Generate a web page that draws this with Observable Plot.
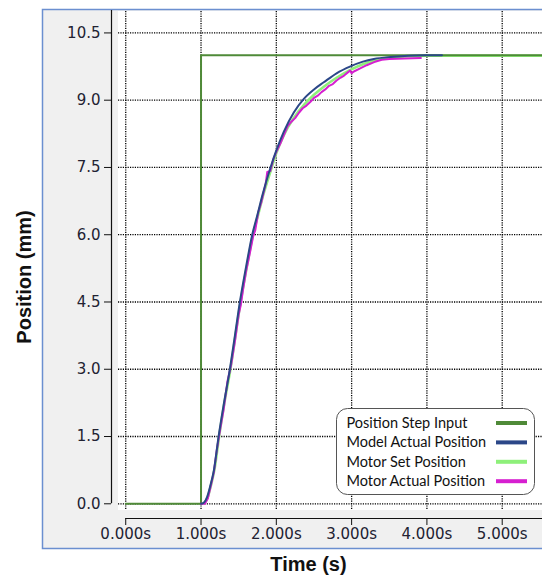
<!DOCTYPE html>
<html><head><meta charset="utf-8">
<script src="https://cdn.jsdelivr.net/npm/d3@7"></script>
<script src="https://cdn.jsdelivr.net/npm/@observablehq/plot@0.6"></script>
<style>
html,body{margin:0;padding:0;background:#fff;}
#chart{position:relative;width:542px;height:577px;overflow:hidden;}
</style></head><body><div id="chart"></div>
<script>
// ---- data ----
const xTicks = [0, 1, 2, 3, 4, 5];
const yTicks = [0, 1.5, 3, 4.5, 6, 7.5, 9, 10.5];
const xDomain = [-0.189, 5.535];
const yDomain = [-0.328, 11.0];
const seriesNames = ["Position Step Input", "Model Actual Position", "Motor Set Position", "Motor Actual Position"];
const seriesColors = ["#4f8a38", "#2b4788", "#8ef07a", "#d61fd0"];

const stepT = [0, 1, 1, 5.535];
const stepV = [0, 0, 10, 10];

const modelT = [1.0, 1.04, 1.08, 1.12, 1.17, 1.233, 1.3, 1.383, 1.45, 1.516, 1.6, 1.68, 1.75, 1.813, 1.923, 2.0, 2.1, 2.23, 2.365, 2.5, 2.63, 2.8, 2.985, 3.15, 3.295, 3.52, 3.98, 4.2];
const modelV = [0, 0.03, 0.15, 0.38, 0.74, 1.5, 2.2, 3.0, 3.75, 4.5, 5.3, 6.0, 6.45, 6.87, 7.5, 7.88, 8.3, 8.72, 9.03, 9.24, 9.40, 9.6, 9.755, 9.86, 9.92, 9.965, 10.0, 10.0];

const setT = [1.0, 1.05, 1.09, 1.13, 1.18, 1.24, 1.31, 1.39, 1.46, 1.525, 1.61, 1.69, 1.76, 1.82, 1.93, 2.0, 2.1, 2.23, 2.37, 2.5, 2.63, 2.8, 2.99, 3.15, 3.3, 3.5, 3.75, 4.0, 5.535];
const setV = [0, 0.03, 0.15, 0.4, 0.78, 1.5, 2.25, 3.0, 3.78, 4.5, 5.3, 6.0, 6.45, 6.85, 7.45, 7.82, 8.22, 8.6, 8.9, 9.12, 9.3, 9.5, 9.68, 9.8, 9.88, 9.95, 9.98, 9.99, 9.99];

const actualT = [1.0, 1.05, 1.09, 1.13, 1.17, 1.21, 1.25, 1.3, 1.35, 1.4, 1.45, 1.5, 1.53, 1.56, 1.6, 1.65, 1.69, 1.72, 1.76, 1.8, 1.86, 1.88, 1.92, 1.96, 2.0, 2.05, 2.1, 2.15, 2.2, 2.25, 2.3, 2.35, 2.4, 2.45, 2.5, 2.55, 2.6, 2.65, 2.7, 2.75, 2.8, 2.85, 2.9, 2.95, 2.98, 3.0, 3.03, 3.1, 3.2, 3.3, 3.4, 3.5, 3.7, 3.92];
const actualV = [0, 0.0, 0.12, 0.4, 0.7, 1.2, 1.62, 2.1, 2.72, 3.1, 3.62, 4.22, 4.45, 4.8, 5.2, 5.6, 5.95, 6.1, 6.5, 6.72, 7.15, 7.4, 7.42, 7.68, 7.85, 8.02, 8.22, 8.42, 8.52, 8.6, 8.72, 8.82, 8.88, 8.96, 9.05, 9.1, 9.18, 9.24, 9.32, 9.36, 9.44, 9.5, 9.55, 9.62, 9.66, 9.6, 9.64, 9.7, 9.78, 9.85, 9.9, 9.92, 9.93, 9.94];

const rows = (T, V) => T.map((t, i) => ({t, v: V[i]}));
const stepRows = rows(stepT, stepV);
const modelRows = rows(modelT, modelV);
const setRows = rows(setT, setV);
const actualRows = rows(actualT, actualV);

const gridStyle = {stroke: "#000", strokeOpacity: 1, strokeWidth: 1.3, strokeDasharray: "1.2,1.2"};

const plot = Plot.plot({
  width: 542, height: 577,
  marginLeft: 111, marginRight: 0, marginTop: 10, marginBottom: 59,
  style: {background: "transparent", fontFamily: "DejaVu Sans, Verdana, sans-serif", fontSize: "15px", color: "#222232", overflow: "visible"},
  x: {domain: xDomain},
  y: {domain: yDomain},
  marks: [
    Plot.gridX(xTicks, {...gridStyle, insetTop: 1, insetBottom: 8}),
    Plot.gridY(yTicks, {...gridStyle, insetLeft: 7}),
    Plot.line(setRows, {x: "t", y: "v", stroke: seriesColors[2], strokeWidth: 2.6, curve: "monotone-x"}),
    Plot.line(stepRows, {x: "t", y: "v", stroke: seriesColors[0], strokeWidth: 2}),
    Plot.line(actualRows, {x: "t", y: "v", stroke: seriesColors[3], strokeWidth: 2}),
    Plot.line(modelRows, {x: "t", y: "v", stroke: seriesColors[1], strokeWidth: 2, curve: "monotone-x"}),
    Plot.ruleX([xDomain[0]], {y1: 0, y2: yDomain[1], stroke: "#111", strokeWidth: 1.2}),
    Plot.ruleY([yDomain[0]], {x1: 0, x2: xDomain[1], stroke: "#111", strokeWidth: 1.2}),
    Plot.axisY(yTicks, {tickSize: 7, tickPadding: 4, tickFormat: d => d.toFixed(1), label: null, stroke: "#111"}),
    Plot.axisX(xTicks, {tickSize: 7, tickPadding: 3, tickFormat: d => d.toFixed(3) + "s", label: null, stroke: "#111"})
  ]
});

const svg = d3.select(plot);
// background panels (inserted underneath)
const bg = svg.insert("g", ":first-child");
bg.append("rect").attr("x", 0).attr("y", 0).attr("width", 542).attr("height", 577).attr("fill", "#fff");
bg.append("rect").attr("x", 42.5).attr("y", 9.5).attr("width", 520).attr("height", 539)
  .attr("fill", "#f0f0f0").attr("stroke", "#6b8fd0").attr("stroke-width", 1.5);
bg.append("rect").attr("x", 118).attr("y", 11).attr("width", 430).attr("height", 499).attr("fill", "#fff");

// axis titles
svg.append("text").text("Position (mm)")
  .attr("transform", "translate(24,277) rotate(-90)")
  .attr("text-anchor", "middle").attr("dy", "0.35em")
  .attr("font-family", "Liberation Sans, Arial, sans-serif").attr("font-weight", "bold")
  .attr("font-size", 20).attr("fill", "#111");
svg.append("text").text("Time (s)")
  .attr("x", 308.5).attr("y", 571)
  .attr("text-anchor", "middle")
  .attr("font-family", "Liberation Sans, Arial, sans-serif").attr("font-weight", "bold")
  .attr("font-size", 20).attr("fill", "#111");

// legend
const lg = svg.append("g");
lg.append("rect").attr("x", 336.5).attr("y", 408.5).attr("width", 198).attr("height", 86)
  .attr("rx", 11).attr("fill", "#fff").attr("stroke", "#555").attr("stroke-width", 1);
seriesNames.forEach((name, i) => {
  const cy = 423 + i * 19.4;
  lg.append("text").text(name).attr("x", 346.5).attr("y", cy).attr("dy", "0.35em")
    .attr("text-anchor", "start")
    .attr("font-family", "Lato, Carlito, sans-serif").attr("font-size", 14.5).attr("fill", "#111");
  lg.append("line").attr("x1", 496).attr("x2", 527).attr("y1", cy).attr("y2", cy)
    .attr("stroke", seriesColors[i]).attr("stroke-width", 4);
});

document.getElementById("chart").appendChild(plot);
</script>
</body></html>
